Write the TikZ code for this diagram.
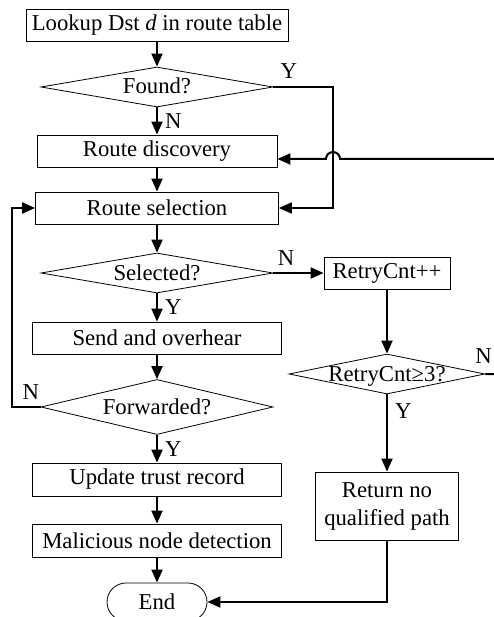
\documentclass[tikz,border=0pt]{standalone}
\usepackage{fontspec}
\setmainfont{Liberation Serif}
\usetikzlibrary{shapes.geometric, arrows.meta, positioning, calc}
\newcommand{\dtxt}[1]{\makebox[0pt]{\raisebox{-7pt}[0pt][0pt]{#1}}}

\begin{document}
\begin{tikzpicture}[x=1pt, y=1pt,
	font=\fontsize{22.7}{28}\selectfont,
	procbox/.style={draw, line width=0.8pt, rectangle, minimum height=32pt, inner sep=0pt},
	decide/.style={draw, line width=0.8pt, diamond, minimum width=232pt, minimum height=40pt, inner sep=0pt},
	terminal/.style={draw, line width=0.8pt, rectangle, rounded corners=19pt, minimum width=100pt, minimum height=38pt},
	flow/.style={line width=2pt, -{Triangle[length=13pt,width=11pt]}},
	lbl/.style={inner sep=7pt}]
	% Fix the frame of the picture
	\useasboundingbox (0,0) rectangle (494,-617);
	
	% Main column
	\node[procbox, minimum width=262pt] (look) at (157,-25) {Lookup Dst \textit{d} in route table};
	\node[decide] (found) at (157,-87) {\dtxt{Found?}};
	\node[procbox, minimum width=240pt] (disc) at (157,-151) {Route discovery};
	\node[procbox, minimum width=243pt] (sel) at (157,-208) {Route selection};
	\node[decide] (selq) at (157,-273) {\dtxt{Selected?}};
	\node[procbox, minimum width=249pt] (send) at (157,-338) {Send and overhear};
	\node[decide, minimum height=55pt] (fwd) at (157,-407) {\dtxt{Forwarded?}};
	\node[procbox, minimum width=249pt, minimum height=33pt] (upd) at (157,-479.5) {Update trust record};
	\node[procbox, minimum width=249pt, minimum height=33pt] (mal) at (157,-540.5) {Malicious node detection};
	\node[terminal] (stop) at (157,-602) {End};
	
	% Retry column
	\node[procbox, minimum width=126pt] (retry) at (387,-273) {RetryCnt++};
	\node[decide, minimum width=196pt] (rq) at (387,-374) {\dtxt{RetryCnt≥3?}};
	\node[procbox, minimum width=143pt, minimum height=68pt, align=center] (ret) at (387,-506) {Return no\\qualified path};
	
	% Crossing point of the two loops
	\coordinate (cross) at (333,-159);
	
	% Connectors of the main column
	\draw[flow] (look) -- (found);
	\draw[flow] (found) -- node[lbl, right]{N} (disc);
	\draw[flow] (disc) -- (sel);
	\draw[flow] (sel) -- (selq);
	\draw[flow] (selq) -- node[lbl, right]{Y} (send);
	\draw[flow] (send) -- (fwd);
	\draw[flow] (fwd) -- node[lbl, right]{Y} (upd);
	\draw[flow] (upd) -- (mal);
	\draw[flow] (mal) -- (stop);
	
	% Branches and loops
	\draw[flow] (found.east) -| node[lbl, pos=0.13, above]{Y} (cross) |- (sel.east);
	\draw[flow] (fwd.west) -- node[lbl, pos=0.34, above]{N} ++(-29,0) |- (sel.west);
	\draw[flow] (selq.east) -- node[lbl, pos=0.25, above]{N} (retry.west);
	\draw[flow] (retry) -- (rq);
	\draw[flow] (rq) -- node[lbl, pos=0.21, right]{Y} (ret);
	\draw[flow] (ret.south) |- (stop.east);
	\draw[flow] (rq.east) -- node[pos=0, anchor=south west, inner sep=0pt, xshift=-11pt, yshift=10pt]{N} ++(25,0)
		|- ($(cross)+(7,0)$) arc[start angle=0, end angle=180, radius=7pt] -- (disc.east |- cross);
	
\end{tikzpicture}
\end{document}
